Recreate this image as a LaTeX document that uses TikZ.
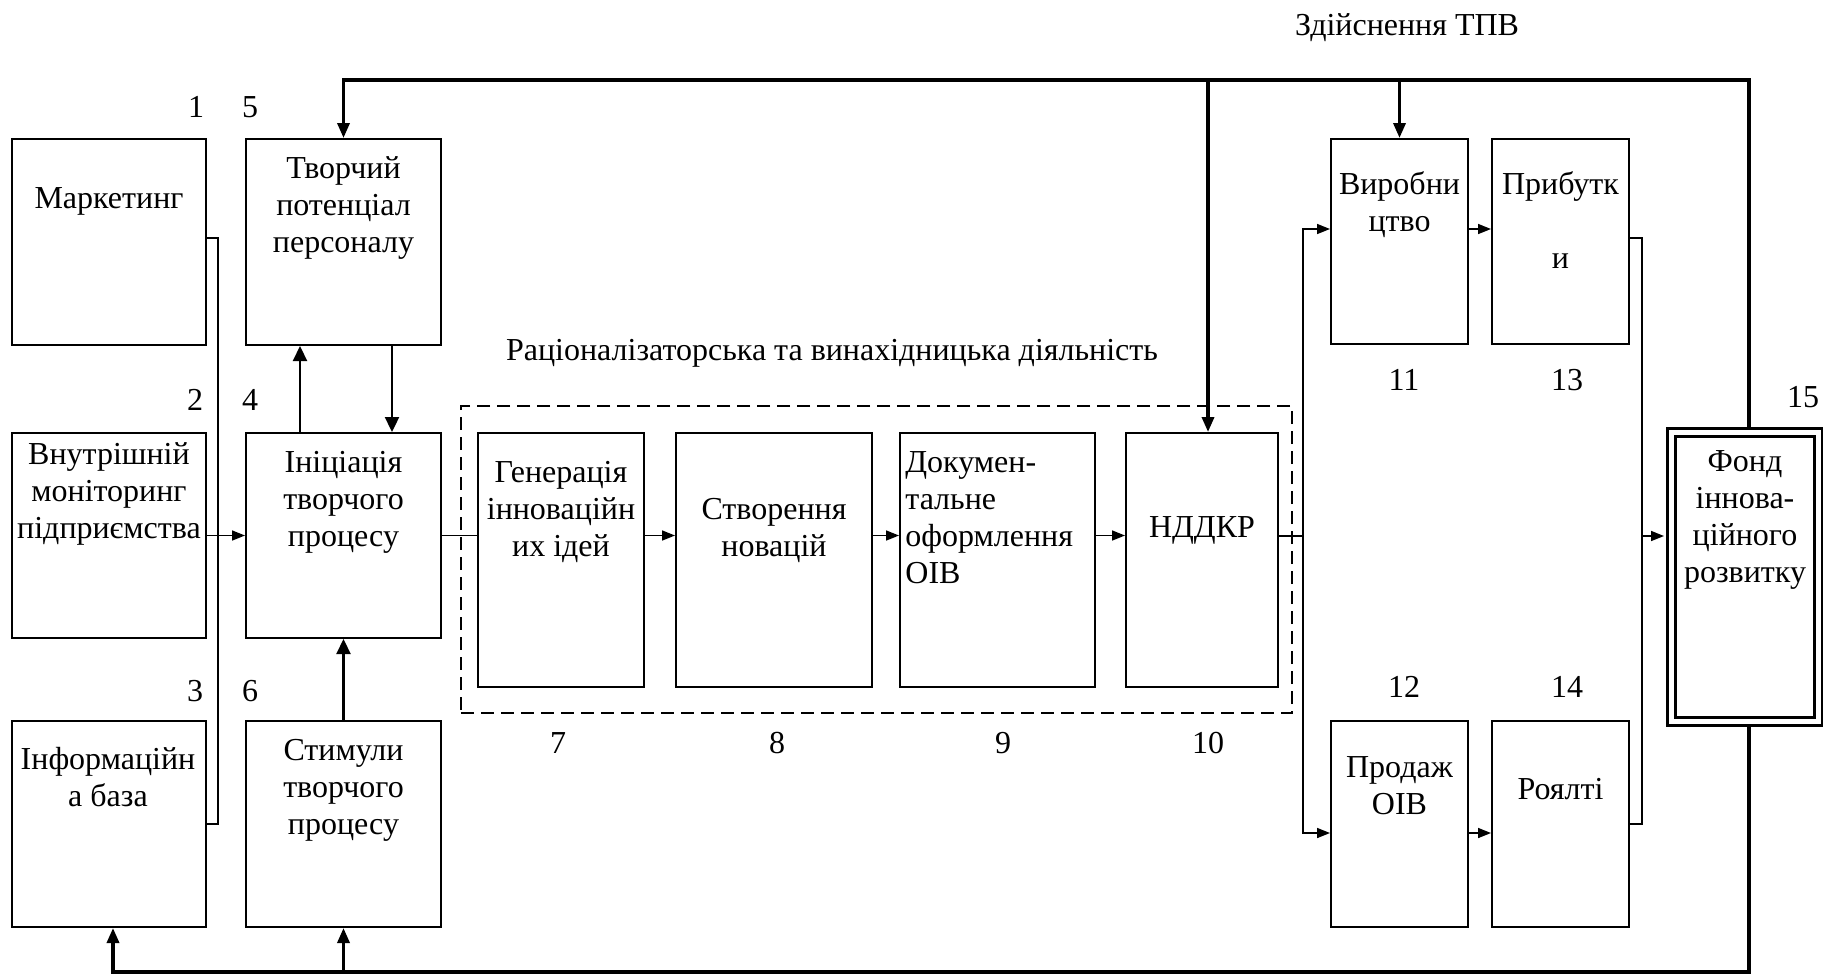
\documentclass[tikz,border=0pt]{standalone}
\usepackage{fontspec}
\setmainfont{LiberationSerif-Regular.ttf}[BoldFont=LiberationSerif-Bold.ttf]
\usetikzlibrary{arrows.meta}
\newcommand\firststrut{\rule{0pt}{14pt}}
\begin{document}
\begin{tikzpicture}[x=0.5pt,y=-0.5pt,
  blk/.style={draw, line width=1pt, inner sep=0},
  dbox/.style={draw, line width=0.75pt, dash pattern=on 6.5pt off 3.5pt, inner sep=0},
  txt/.style={inner sep=0, align=center, anchor=north, font=\rmfamily\fontsize{16}{18.5}\selectfont},
  num/.style={inner sep=0, anchor=base, font=\rmfamily\fontsize{16}{18.5}\selectfont},
  conn/.style={line width=0.8pt},
  arr/.style={conn, -{Triangle[length=6.5pt,width=5pt]}},
  midarr/.style={line width=1.15pt, -{Triangle[length=7.5pt,width=7pt]}},
  fb/.style={line width=1.7pt},
  fbarr/.style={fb, -{Triangle[length=7.5pt,width=6pt]}}]
\useasboundingbox (0,0) rectangle (1823,976);

% boxes
\node[blk, minimum width=97pt, minimum height=103pt] (m1) at (109,242) {};
\node[blk, minimum width=97pt, minimum height=102.5pt] (m2) at (109,535.5) {};
\node[blk, minimum width=97pt, minimum height=103pt] (m3) at (109,824) {};
\node[blk, minimum width=97.5pt, minimum height=103pt] (m5) at (343.5,242) {};
\node[blk, minimum width=97.5pt, minimum height=102.5pt] (m4) at (343.5,535.5) {};
\node[blk, minimum width=97.5pt, minimum height=103pt] (m6) at (343.5,824) {};
\node[dbox, minimum width=415.5pt, minimum height=153.5pt] (rv) at (876.5,559.5) {};
\node[blk, minimum width=83pt, minimum height=127pt] (m7) at (561,560) {};
\node[blk, minimum width=98pt, minimum height=127pt] (m8) at (774,560) {};
\node[blk, minimum width=97.5pt, minimum height=127pt] (m9) at (997.5,560) {};
\node[blk, minimum width=76pt, minimum height=127pt] (m10) at (1202,560) {};
\node[blk, minimum width=68.5pt, minimum height=102.5pt] (m11) at (1399.5,241.5) {};
\node[blk, minimum width=68.5pt, minimum height=102.5pt] (m13) at (1560.5,241.5) {};
\node[blk, minimum width=68.5pt, minimum height=103pt] (m12) at (1399.5,824) {};
\node[blk, minimum width=68.5pt, minimum height=103pt] (m14) at (1560.5,824) {};
\node[draw, double, line width=1.5pt, double distance=2.5pt, inner sep=0,
      minimum width=73.5pt, minimum height=144.25pt] (m15) at (1744.5,576.75) {};

% texts
\node[txt] (t1) at (109,180) {\firststrut Маркетинг};
\node[txt] (t5) at (343.5,150) {\firststrut Творчий\\потенціал\\персоналу};
\node[txt] (t2) at (109,436) {\firststrut Внутрішній\\моніторинг\\підприємства};
\node[txt] (t4) at (343.5,444) {\firststrut Ініціація\\творчого\\процесу};
\node[txt] (t3) at (108,741) {\firststrut Інформаційн\\а база};
\node[txt] (t6) at (343.5,732) {\firststrut Стимули\\творчого\\процесу};
\node[txt] (t7) at (561,454) {\firststrut Генерація\\інноваційн\\их ідей};
\node[txt] (t8) at (774,491) {\firststrut Створення\\новацій};
\node[txt, align=left, anchor=north west] (t9) at (905,444) {\firststrut Докумен-\\тальне\\оформлення\\ОІВ};
\node[txt] (t10) at (1202,509) {\firststrut НДДКР};
\node[txt] (t11) at (1399.5,166) {\firststrut Виробни\\цтво};
\node[txt] (t13) at (1560.5,166) {\firststrut Прибутк\\[18.5pt]и};
\node[txt] (t12) at (1399.5,749) {\firststrut Продаж\\ОІВ};
\node[txt] (t14) at (1560.5,771) {\firststrut Роялті};
\node[txt] (t15) at (1745,443) {\firststrut Фонд\\іннова-\\ційного\\розвитку};

% numbers
\node[num] (n1) at (196,117) {1};
\node[num] (n5) at (250,117) {5};
\node[num] (n2) at (195,410) {2};
\node[num] (n4) at (250,410) {4};
\node[num] (n3) at (195,701) {3};
\node[num] (n6) at (250,701) {6};
\node[num] (n7) at (558,753) {7};
\node[num] (n8) at (777,753) {8};
\node[num] (n9) at (1003,753) {9};
\node[num] (n10) at (1208,753) {10};
\node[num] (n11) at (1404,390) {11};
\node[num] (n13) at (1567,390) {13};
\node[num] (n12) at (1404,697) {12};
\node[num] (n14) at (1567,697) {14};
\node[num] (n15) at (1803,407) {15};
\node[num] (title1) at (832,360) {Раціоналізаторська та винахідницька діяльність};
\node[num] (title2) at (1407,35) {Здійснення ТПВ};

% thin connectors
\draw[conn] ([yshift=2pt]m1.east) -- ++(11,0) |- (m3.east);
\draw[arr] (m2.east) -- (m4.west);
\draw[conn] (m4.east) -- (m4.east -| m7.west);
\draw[arr] (m4.east -| m7.east) -- (m4.east -| m8.west);
\draw[arr] (m4.east -| m8.east) -- (m4.east -| m9.west);
\draw[arr] (m4.east -| m9.east) -- (m4.east -| m10.west);
\coordinate (b2) at (1303,536);
\draw[conn] (b2 -| m10.east) -- (b2);
\coordinate (m11w) at ([yshift=6.25pt]m11.west);
\coordinate (m12w) at ([yshift=-4.5pt]m12.west);
\draw[arr] (b2) |- (m11w);
\draw[arr] (b2) |- (m12w);
\draw[arr] (m11w -| m11.east) -- (m11w -| m13.west);
\draw[arr] (m12w -| m12.east) -- (m12w -| m14.west);
\coordinate (b3) at (1642,536);
\draw[conn] ([yshift=1.75pt]m13.east) -| (b3) |- (m14.east);
\draw[arr, shorten >=2.75pt] (b3) -- (b3 -| m15.west);

% vertical arrows 4-5-6
\draw[midarr] ([xshift=-21.75pt]m4.north) -- ([xshift=-21.75pt]m5.south);
\draw[midarr] ([xshift=24.25pt]m5.south) -- ([xshift=24.25pt]m4.north);
\draw[midarr] (m6.north) -- (m4.south);

% feedback loops
\coordinate (tr) at (1749,80);
\coordinate (br) at (1749,972);
\coordinate (f15t) at ([yshift=2.25pt]m15.north);
\coordinate (f15b) at ([yshift=-2.25pt]m15.south);
\coordinate (m10n) at ([xshift=3pt]m10.north);
\coordinate (m3s) at ([xshift=2pt]m3.south);
\draw[fbarr] (f15t -| tr) -- (tr) -| (m5.north);
\draw[fbarr] (m11.north |- tr) -- (m11.north);
\draw[fbarr] (m10n |- tr) -- (m10n);
\draw[fbarr] (f15b -| br) -- (br) -| (m3s);
\draw[fbarr] (m6.south |- br) -- (m6.south);
\end{tikzpicture}
\end{document}
